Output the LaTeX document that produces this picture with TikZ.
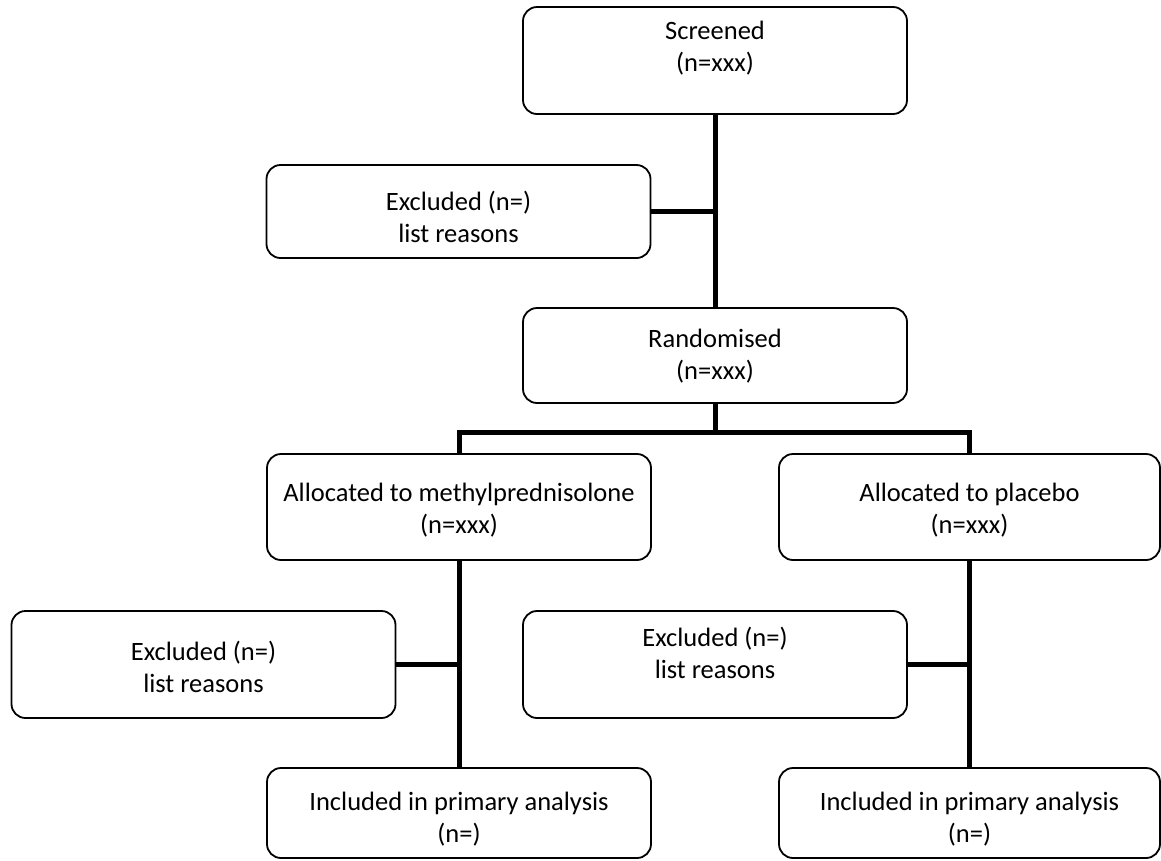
\documentclass[tikz,border=0pt]{standalone}
\usepackage{fontspec}
\setmainfont{Carlito}
\begin{document}
\begin{tikzpicture}[x=1pt,y=-1pt,
  box/.style={draw=black, line width=1.8pt, rounded corners=14pt,
              minimum width=384pt, inner sep=0pt},
  txt/.style={align=center, inner sep=0pt,
              font=\fontsize{26.5}{32}\selectfont},
  link/.style={draw=black, line width=5pt}]
  \useasboundingbox (0,0) rectangle (1161,860);

  % boxes
  \node[box, minimum height=107pt] (scr) at (715,60.5) {};
  \node[box, minimum height=93pt]  (ex1) at (458.5,211.5) {};
  \node[box, minimum height=95pt]  (rnd) at (715,355.5) {};
  \node[box, minimum height=106pt] (alA) at (459,507) {};
  \node[box, minimum height=106pt, minimum width=381pt] (alB) at (969.5,507) {};
  \node[box, minimum height=107pt] (ex2) at (203.5,664.5) {};
  \node[box, minimum height=107pt] (ex3) at (715,664.5) {};
  \node[box, minimum height=90pt]  (inA) at (459,813) {};
  \node[box, minimum height=90pt, minimum width=381pt] (inB) at (969.5,813) {};

  % texts
  \node[txt] (scrT) at (715,48)   {Screened\\(n=xxx)};
  \node[txt] (ex1T) at (458.5,217) {Excluded (n=)\\list reasons};
  \node[txt] (rndT) at (715,356)  {Randomised\\(n=xxx)};
  \node[txt] (alAT) at (459,510)  {Allocated to methylprednisolone\\(n=xxx)};
  \node[txt] (alBT) at (969.5,510) {Allocated to placebo\\(n=xxx)};
  \node[txt] (ex2T) at (203.5,667) {Excluded (n=)\\list reasons};
  \node[txt] (ex3T) at (715,653)  {Excluded (n=)\\list reasons};
  \node[txt] (inAT) at (459,819)  {Included in primary analysis\\(n=)};
  \node[txt] (inBT) at (969.5,819) {Included in primary analysis\\(n=)};

  % connectors
  \coordinate (split) at (715,432);
  \draw[link] (scr.south) -- (rnd.north);
  \draw[link] (ex1.east) -- (ex1.east -| scr.south);
  \draw[link] (rnd.south) -- (split);
  \draw[link] (alA.north) -- (alA.north |- split) -- (alB.north |- split) -- (alB.north);
  \draw[link] (alA.south) -- (inA.north);
  \draw[link] (ex2.east) -- (ex2.east -| alA.south);
  \draw[link] (alB.south) -- (inB.north);
  \draw[link] (ex3.east) -- (ex3.east -| alB.south);
\end{tikzpicture}
\end{document}
